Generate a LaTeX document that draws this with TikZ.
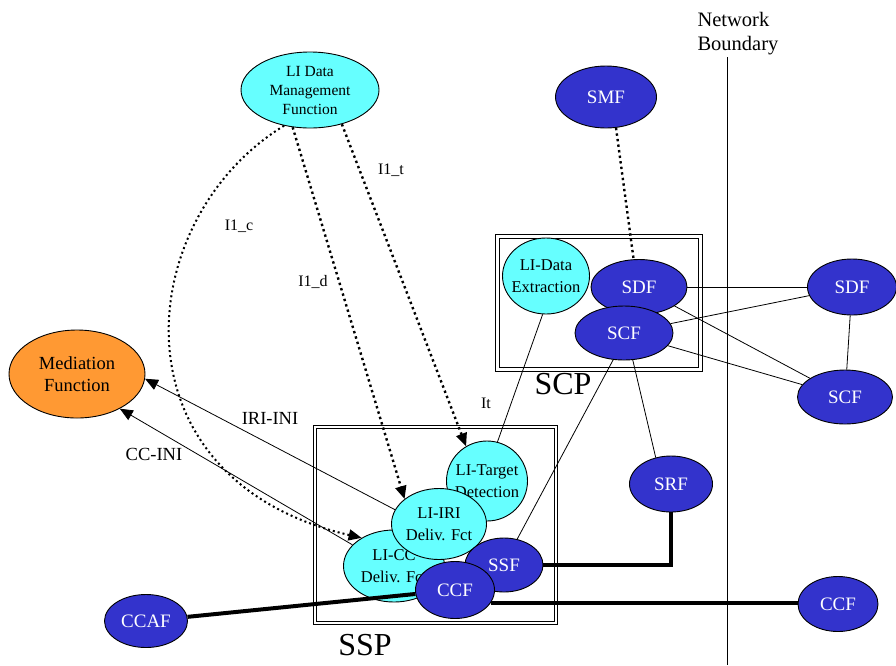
\documentclass[tikz,border=0pt]{standalone}
\usepackage{fontspec}
\setmainfont{Liberation Serif}
\usetikzlibrary{shapes.geometric, arrows.meta, positioning}

\definecolor{licyan}{RGB}{102,255,255}
\definecolor{netblue}{RGB}{51,51,204}
\definecolor{medorange}{RGB}{255,153,51}

\begin{document}
\begin{tikzpicture}[x=1pt, y=-1pt,
        lifct/.style={ellipse, draw, line width=0.9pt, fill=licyan, inner sep=-12pt, align=center, font=\fontsize{16.5}{22}\selectfont},
        netfct/.style={ellipse, draw, line width=0.9pt, fill=netblue, text=white, inner sep=-12pt, font=\fontsize{19}{20}\selectfont},
        medfct/.style={ellipse, draw, line width=0.9pt, fill=medorange, inner sep=-12pt, align=center, font=\fontsize{18.5}{22}\selectfont},
        nodebox/.style={draw, double, double distance=2.4pt, line width=1pt},
        link/.style={line width=0.8pt},
        trunk/.style={line width=4pt},
        lidots/.style={line width=2.4pt, dash pattern=on 2.4pt off 3.2pt},
        tip/.style={-{Triangle[length=13pt, width=11pt]}},
        lbl/.style={font=\fontsize{16}{18}\selectfont},
        ifc/.style={font=\fontsize{18.5}{20}\selectfont},
        boxlbl/.style={font=\fontsize{32}{34}\selectfont}
    ]
        \useasboundingbox (0,0) rectangle (896,665);

        % Network boundary
        \node[anchor=west, align=left, font=\fontsize{20.5}{24}\selectfont] (nbl) at (694,34) {Network\\Boundary};
        \coordinate (nbtop) at (727,57);
        \coordinate (nbbot) at (727,665);
        \draw[link] (nbtop) -- (nbbot);

        % Boxes
        \node[nodebox, minimum width=203pt, minimum height=133pt] (scp) at (599,303) {};
        \node[nodebox, minimum width=241pt, minimum height=196pt] (ssp) at (435.5,525) {};
        \node[boxlbl] (scplbl) at (563,384) {SCP};
        \node[boxlbl] (ssplbl) at (365,645) {SSP};

        % LI functions
        \node[lifct, minimum width=138pt, minimum height=76pt, font=\fontsize{15.5}{19}\selectfont] (dmf) at (310,90) {LI Data\\Management\\Function};
        \node[medfct, minimum width=136pt, minimum height=88pt] (medf) at (77,374) {Mediation\\Function};
        \node[lifct, minimum width=87pt, minimum height=76pt] (lidx) at (546,276) {LI-Data\\Extraction};

        % SCP
        \node[netfct, minimum width=101pt, minimum height=62pt] (smf) at (606,97) {SMF};
        \node[netfct, minimum width=96pt, minimum height=55pt] (sdfa) at (639,287) {SDF};
        \node[netfct, minimum width=98pt, minimum height=54pt] (scfa) at (624,333) {SCF};
        \node[netfct, minimum width=89pt, minimum height=56pt] (sdfb) at (852,287) {SDF};
        \node[netfct, minimum width=95pt, minimum height=54pt] (scfb) at (845,397) {SCF};
        \node[netfct, minimum width=83pt, minimum height=56pt] (srf) at (671,484) {SRF};

        % SSP
        \node[lifct, minimum width=81pt, minimum height=80pt] (litd) at (487,481) {LI-Target\\Detection};
        \node[lifct, minimum width=101pt, minimum height=72pt] (licc) at (394,566) {LI-CC\\Deliv. Fct};
        \node[lifct, minimum width=95pt, minimum height=71pt] (liiri) at (439,524) {LI-IRI\\Deliv. Fct};
        \node[netfct, minimum width=78pt, minimum height=54pt] (ssf) at (504,565) {SSF};
        \node[netfct, minimum width=79pt, minimum height=57pt] (ccfa) at (455,590) {CCF};
        \node[netfct, minimum width=83pt, minimum height=53pt] (ccaf) at (146,621) {CCAF};
        \node[netfct, minimum width=80pt, minimum height=55pt] (ccfb) at (838,604) {CCF};

        % LI interfaces
        \draw[lidots, tip] (dmf.-47) -- (litd.121);
        \draw[lidots, tip] (dmf.-115) -- (liiri.144);
        \draw[lidots, line width=2pt, dash pattern=on 2pt off 3pt, tip] (dmf.-126) .. controls (130,220) and (110,480) .. (licc.139);
        \draw[lidots] (smf.-72) -- (sdfa.101);
        \node[lbl] (i1t) at (391,170) {I1\_t};
        \node[lbl] (i1d) at (313,282) {I1\_d};
        \node[lbl] (i1c) at (239,226) {I1\_c};

        \draw[link, tip] (liiri.162) -- (medf.-4);
        \draw[link, tip] (licc.153) -- (medf.-39);
        \node[ifc] (irilbl) at (270,418) {IRI-INI};
        \node[ifc] (cclbl) at (154,454) {CC-INI};

        \draw[link] (lidx.-95) -- (litd.75);
        \node[ifc, font=\fontsize{16}{18}\selectfont] (itlbl) at (486,403) {It};

        % signalling links
        \draw[link] (scfa.-112) -- (ssf.63);
        \draw[link] (scfa.-72) -- (srf.120);
        \draw[link] (sdfa) -- (sdfb);
        \draw[link] (sdfa) -- (scfb);
        \draw[link] (scfa) -- (sdfb);
        \draw[link] (scfa) -- (scfb);
        \draw[link] (sdfb) -- (scfb);

        % bearer links
        \draw[trunk] (ssf.east) -| (srf.south);
        \draw[trunk] (ccfa.-20) -- (ccfa.-20 -| ccfb.west);
        \draw[trunk] (ccaf) -- (ccfa);
\end{tikzpicture}
\end{document}
